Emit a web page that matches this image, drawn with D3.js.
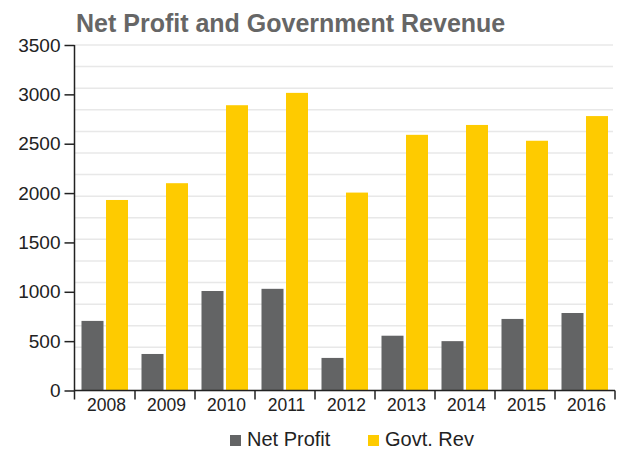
<!DOCTYPE html>
<html>
<head>
<meta charset="utf-8">
<script src="https://cdn.jsdelivr.net/npm/d3@7"></script>
<style>
  body { margin: 0; background: #fff; }
  svg { display: block; font-family: "Liberation Sans", Arial, Helvetica, sans-serif; }
</style>
</head>
<body>
<svg id="chart" width="627" height="451"></svg>
<script>
// Chart data
const years = ["2008", "2009", "2010", "2011", "2012", "2013", "2014", "2015", "2016"];
const netProfit = [705, 370, 1008, 1030, 330, 555, 500, 725, 785];
const govtRevenue = [1930, 2100, 2890, 3015, 2005, 2590, 2690, 2530, 2780];
const seriesNames = ["Net Profit", "Govt. Rev"];
const yTicks = [0, 500, 1000, 1500, 2000, 2500, 3000, 3500];

const colors = ["#636465", "#fecb00"];
const svg = d3.select("#chart");

const plot = { left: 74.5, right: 615, top: 45, bottom: 390.5 };

const x = d3.scaleBand().domain(years).range([plot.left + 0.5, plot.right]);
const y = d3.scaleLinear().domain([0, 3500]).range([plot.bottom, plot.top]);

// Light horizontal grid, 16 divisions of the value range
const gridVals = d3.range(0, 17).map(i => 3500 * i / 16);
svg.append("g")
  .selectAll("line")
  .data(gridVals)
  .join("line")
  .attr("x1", plot.left)
  .attr("x2", plot.right - 2)
  .attr("y1", d => y(d))
  .attr("y2", d => y(d))
  .attr("stroke", "#e8e8e8")
  .attr("stroke-width", 1.5);

// Bars
const barW = 22, gap = 2.5, offset = 6.5;
const series = [netProfit, govtRevenue];
series.forEach((vals, s) => {
  svg.append("g")
    .selectAll("rect")
    .data(years)
    .join("rect")
    .attr("x", (d, i) => x(d) + offset + s * (barW + gap))
    .attr("y", (d, i) => y(vals[i]))
    .attr("width", barW)
    .attr("height", (d, i) => y(0) - y(vals[i]))
    .attr("fill", colors[s]);
});

// Y axis
const yAxis = svg.append("g")
  .attr("transform", `translate(${plot.left},0)`)
  .call(d3.axisLeft(y).tickValues(yTicks).tickFormat(d3.format("d"))
    .tickSize(10).tickPadding(4).tickSizeOuter(0));
yAxis.select(".domain").remove();
yAxis.selectAll(".tick line").attr("stroke", "#222").attr("stroke-width", 1.5);
yAxis.selectAll(".tick text")
  .attr("fill", "#222")
  .style("font-size", "19px");
yAxis.append("line")
  .attr("x1", 0).attr("x2", 0)
  .attr("y1", plot.top).attr("y2", plot.bottom + 9)
  .attr("stroke", "#222").attr("stroke-width", 1.5);

// X axis
const xAxis = svg.append("g")
  .attr("transform", `translate(0,${plot.bottom})`)
  .call(d3.axisBottom(x).tickSize(0).tickPadding(8));
xAxis.select(".domain").remove();
xAxis.selectAll(".tick text")
  .attr("fill", "#222")
  .attr("dx", "1.5")
  .style("font-size", "17.5px");
xAxis.append("line")
  .attr("x1", plot.left).attr("x2", plot.right)
  .attr("y1", 0).attr("y2", 0)
  .attr("stroke", "#222").attr("stroke-width", 1.5);
xAxis.selectAll(".sep")
  .data(years.slice(1).map(d => x(d)).concat([x.range()[1]]))
  .join("line")
  .attr("class", "sep")
  .attr("x1", d => d).attr("x2", d => d)
  .attr("y1", 0).attr("y2", 9)
  .attr("stroke", "#222").attr("stroke-width", 1.5);

// Title
svg.append("text")
  .attr("x", 76)
  .attr("y", 31.5)
  .attr("fill", "#666")
  .style("font-weight", "bold")
  .style("font-size", "25px")
  .text("Net Profit and Government Revenue");

// Legend
const legendX = [230, 368];
const legend = svg.append("g");
seriesNames.forEach((name, i) => {
  legend.append("rect")
    .attr("x", legendX[i]).attr("y", 435)
    .attr("width", 11).attr("height", 11)
    .attr("fill", colors[i]);
  legend.append("text")
    .attr("x", legendX[i] + 17).attr("y", 446)
    .attr("fill", "#222")
    .style("font-size", "20px")
    .text(name);
});
</script>
</body>
</html>
